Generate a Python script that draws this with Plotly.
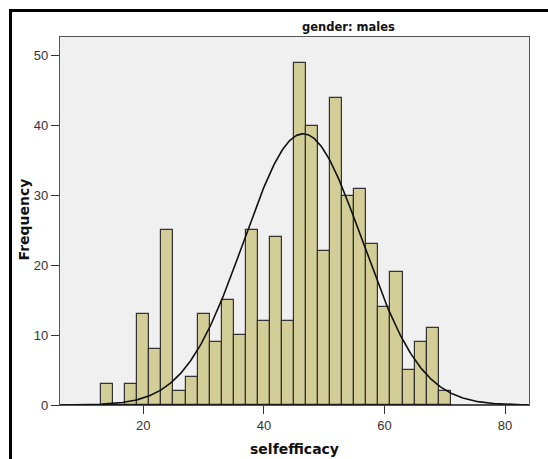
import numpy as np
import plotly.graph_objects as go

# Histogram of selfefficacy scores (bin width 2), males only
bin_centers = [14, 16, 18, 20, 22, 24, 26, 28, 30, 32, 34, 36, 38, 40, 42,
               44, 46, 48, 50, 52, 54, 56, 58, 60, 62, 64, 66, 68, 70]
counts = [3, 0, 3, 13, 8, 25, 2, 4, 13, 9, 15, 10, 25, 12, 24,
          12, 49, 40, 22, 44, 30, 31, 23, 14, 19, 5, 9, 11, 2]
bin_width = 2

# Fitted normal curve parameters
curve_mean = 46.5
curve_sd = 9.8

x_ticks = [20, 40, 60, 80]
y_ticks = [0, 10, 20, 30, 40, 50]

n_total = sum(counts)
xs = np.linspace(6.2, 83.9, 400)
ys = n_total * bin_width * np.exp(-0.5 * ((xs - curve_mean) / curve_sd) ** 2) / (curve_sd * np.sqrt(2 * np.pi))

W, H = 548, 459
ml, mr, mt, mb = 60, 19, 37, 54
pw, ph = W - ml - mr, H - mt - mb


def px_to_paper_x(px):
    return (px - ml) / pw


def px_to_paper_y(py):
    return (H - mb - py) / ph


fig = go.Figure()
fig.add_trace(go.Bar(
    x=bin_centers, y=counts, width=bin_width,
    marker=dict(color="#D3CE97", line=dict(color="#333333", width=1.2)),
    showlegend=False, hoverinfo="x+y",
))
fig.add_trace(go.Scatter(
    x=xs, y=ys, mode="lines",
    line=dict(color="#111111", width=1.6),
    showlegend=False, hoverinfo="skip",
))

tick_font = dict(family="Liberation Sans, Arial, sans-serif", size=13, color="#333333")
title_font = dict(family="DejaVu Sans, sans-serif", size=14, color="#111111")

fig.update_layout(
    width=W, height=H,
    margin=dict(l=ml, r=mr, t=mt, b=mb, pad=0),
    paper_bgcolor="white",
    plot_bgcolor="#F0F0F0",
    bargap=0,
    xaxis=dict(
        range=[6.18, 83.98], tickvals=x_ticks, ticks="outside", ticklen=8,
        tickcolor="#333333", tickwidth=1, tickfont=tick_font,
        showgrid=False, zeroline=False,
        showline=True, linecolor="#555555", linewidth=1.3, mirror=True,
    ),
    yaxis=dict(
        range=[0, 52.7], tickvals=y_ticks, ticks="outside", ticklen=8,
        tickcolor="#333333", tickwidth=1, tickfont=tick_font,
        showgrid=False, zeroline=False,
        showline=True, linecolor="#555555", linewidth=1.3, mirror=True,
    ),
    annotations=[
        dict(text="<b>gender: males</b>", xref="paper", yref="paper",
             x=px_to_paper_x(348), y=px_to_paper_y(27), showarrow=False,
             xanchor="center", yanchor="middle",
             font=dict(family="DejaVu Sans, sans-serif", size=11.5, color="#111111")),
        dict(text="<b>selfefficacy</b>", xref="paper", yref="paper",
             x=px_to_paper_x(294), y=px_to_paper_y(449), showarrow=False,
             xanchor="center", yanchor="middle", font=title_font),
        dict(text="<b>Frequency</b>", xref="paper", yref="paper",
             x=px_to_paper_x(23.5), y=px_to_paper_y(220), showarrow=False,
             xanchor="center", yanchor="middle", textangle=-90, font=title_font),
    ],
    shapes=[
        # baseline at zero
        dict(type="line", xref="paper", yref="y", x0=0, x1=1, y0=0, y1=0,
             line=dict(color="#111111", width=1.6), layer="above"),
        # outer frame around the chart panel
        dict(type="rect", xref="paper", yref="paper",
             x0=px_to_paper_x(10.5), x1=px_to_paper_x(W + 20),
             y0=px_to_paper_y(H + 20), y1=px_to_paper_y(10.5),
             line=dict(color="black", width=3), fillcolor="rgba(0,0,0,0)"),
    ],
)

fig.write_html("out.html")
